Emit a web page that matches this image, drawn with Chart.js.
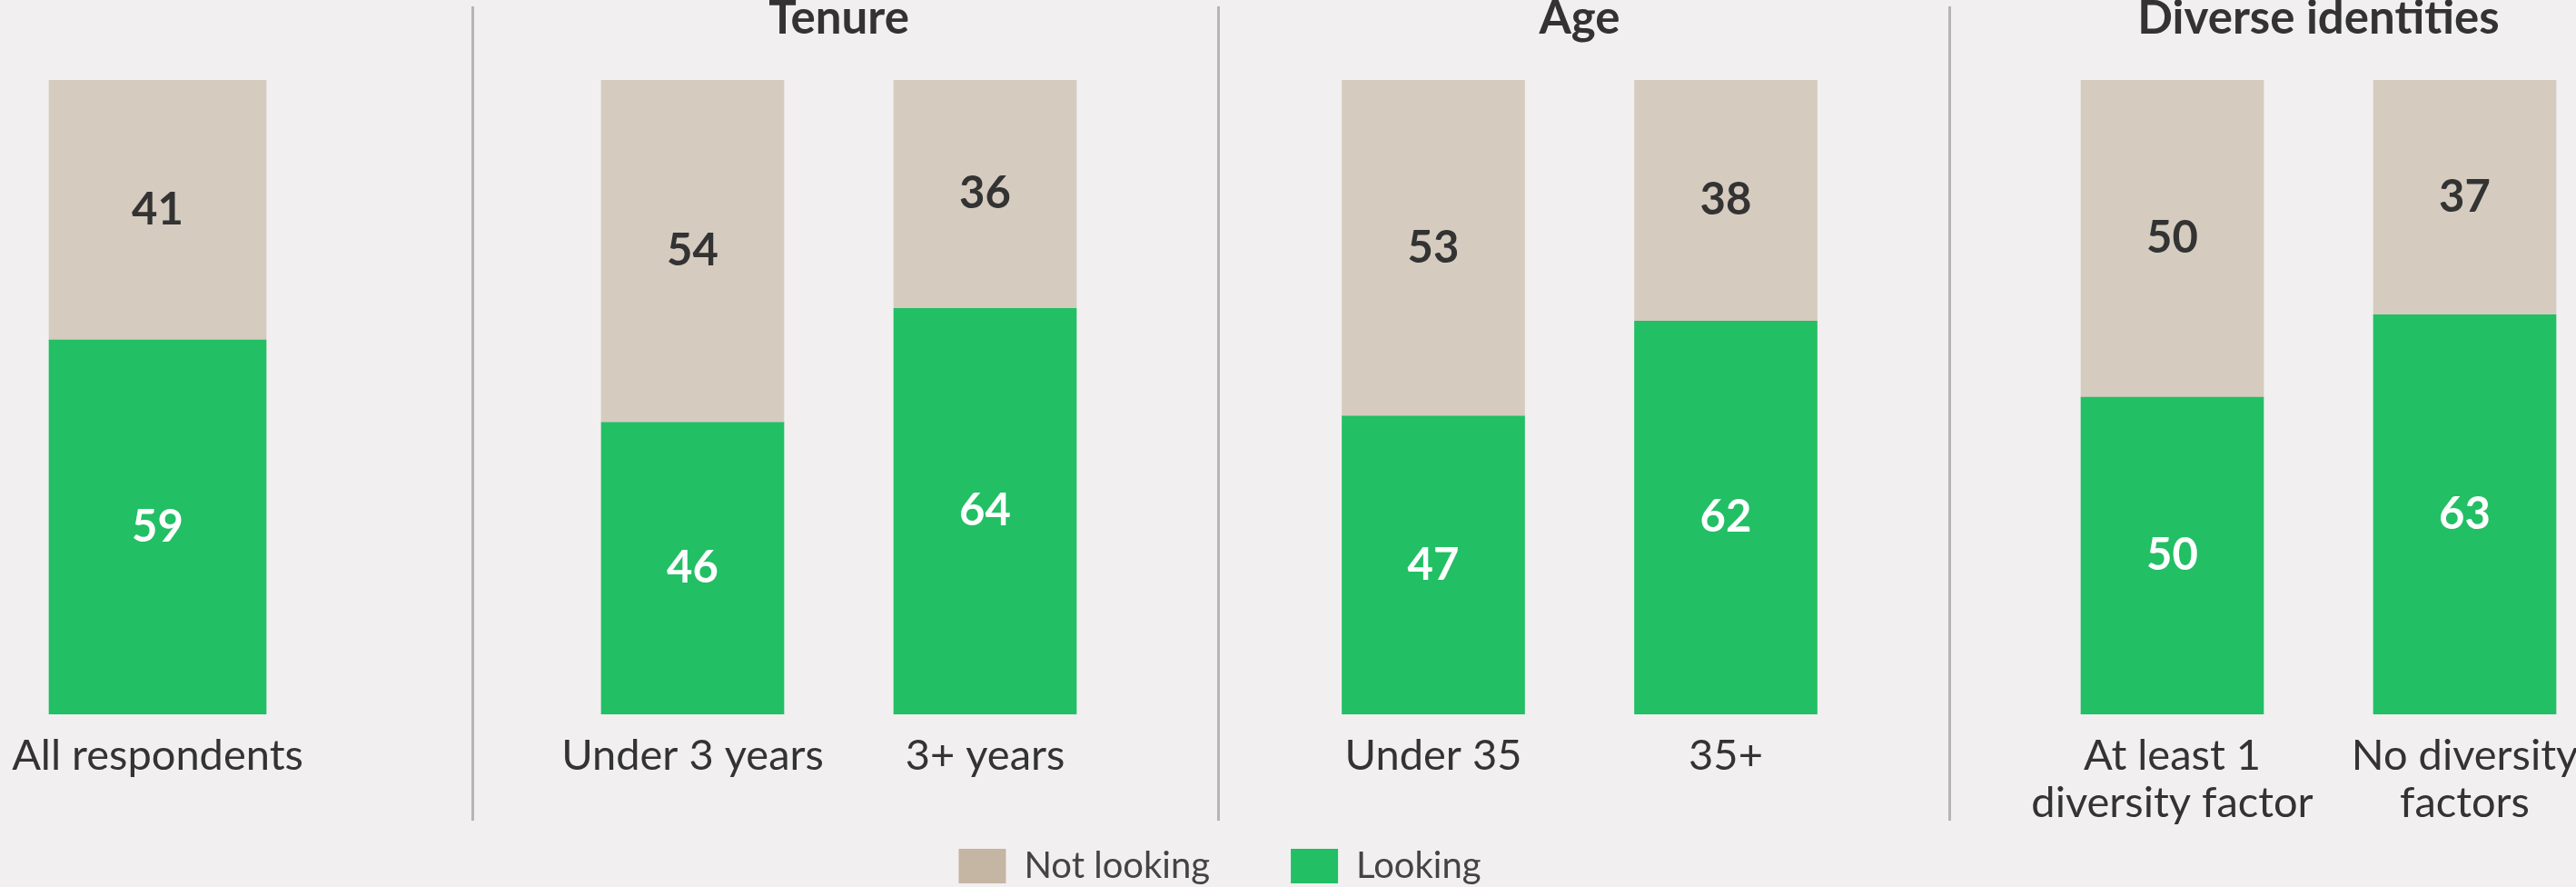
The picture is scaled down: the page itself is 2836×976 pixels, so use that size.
<!DOCTYPE html>
<html>
<head>
<meta charset="utf-8">
<script src="https://cdn.jsdelivr.net/npm/chart.js@4.4.1/dist/chart.umd.min.js"></script>
<style>
  html, body { margin: 0; padding: 0; width: 2836px; height: 976px; overflow: hidden; background: #f1eff0; }
  .panel { position: absolute; top: 0; height: 976px; }
  .legendBox { position: absolute; }
</style>
</head>
<body>
<div class="panel" style="left:0px;width:519px"><canvas id="cAll"></canvas></div>
<div class="panel" style="left:519px;width:821px"><canvas id="cTenure"></canvas></div>
<div class="panel" style="left:1340px;width:805px"><canvas id="cAge"></canvas></div>
<div class="panel" style="left:2145px;width:800px"><canvas id="cDiv"></canvas></div>
<div class="legendBox" style="left:0px;top:844px;width:2686px;height:500px"><canvas id="cLegend"></canvas></div>
<script>
// ---------------- DATA ----------------
const seriesNames = ['Not looking', 'Looking'];

const allTitle = '';
const allLabels = ['All respondents'];
const allLooking = [59];
const allNotLooking = [41];

const tenureTitle = 'Tenure';
const tenureLabels = ['Under 3 years', '3+ years'];
const tenureLooking = [46, 64];
const tenureNotLooking = [54, 36];

const ageTitle = 'Age';
const ageLabels = ['Under 35', '35+'];
const ageLooking = [47, 62];
const ageNotLooking = [53, 38];

const diversityTitle = 'Diverse identities';
const diversityLabels = [['At least 1', 'diversity factor'], ['No diversity', 'factors']];
const diversityLooking = [50, 63];
const diversityNotLooking = [50, 37];

// ---------------- STYLE ----------------
const GREEN = '#22bf64';
const BEIGE = '#d5cbbf';
const BEIGE_LEGEND = '#c5b5a3';
const TEXT = '#333333';
const FONT = 'Lato';

Chart.defaults.font.family = FONT;
Chart.defaults.color = TEXT;
Chart.defaults.animation = false;

const valueLabels = {
  id: 'valueLabels',
  afterDatasetsDraw(chart) {
    const ctx = chart.ctx;
    ctx.save();
    ctx.font = 'bold 49px ' + FONT;
    ctx.textAlign = 'center';
    ctx.textBaseline = 'middle';
    chart.data.datasets.forEach((ds, i) => {
      const meta = chart.getDatasetMeta(i);
      ctx.fillStyle = ds.labelColor;
      meta.data.forEach((el, j) => {
        const v = ds.data[j];
        if (v == null) return;
        ctx.fillText(String(v), el.x, (el.y + el.base) / 2);
      });
    });
    ctx.restore();
  }
};

const divider = {
  id: 'divider',
  beforeDraw(chart, args, opts) {
    if (!opts || !opts.show) return;
    const ctx = chart.ctx;
    ctx.save();
    ctx.fillStyle = '#b5b5b5';
    ctx.fillRect(0, 7, 3, 896);
    ctx.restore();
  }
};

function makePanel(id, title, labels, looking, notLooking, pad, barThickness, showDivider) {
  const hasTitle = title !== '';
  return new Chart(document.getElementById(id), {
    type: 'bar',
    data: {
      labels: labels,
      datasets: [
        { label: seriesNames[1], data: looking, backgroundColor: GREEN, labelColor: '#ffffff', barThickness: barThickness },
        { label: seriesNames[0], data: notLooking, backgroundColor: BEIGE, labelColor: TEXT, barThickness: barThickness }
      ]
    },
    options: {
      responsive: true,
      maintainAspectRatio: false,
      devicePixelRatio: 1,
      layout: { padding: { left: pad[0], right: pad[1], top: hasTitle ? 0 : 88, bottom: 0 } },
      scales: {
        x: {
          stacked: true,
          grid: { display: false, drawTicks: false },
          border: { display: false },
          ticks: { font: { size: 47, lineHeight: 1.106 }, color: TEXT, padding: 20, maxRotation: 0, minRotation: 0, autoSkip: false },
          afterFit(scale) { scale.height = 190; scale.paddingLeft = 0; scale.paddingRight = 0; }
        },
        y: { stacked: true, display: false, min: 0, max: 100 }
      },
      plugins: {
        legend: { display: false },
        tooltip: { enabled: false },
        title: {
          display: hasTitle,
          text: title,
          fullSize: false,
          color: TEXT,
          font: { size: 51, weight: 'bold', lineHeight: 0.8 },
          padding: { top: 0, bottom: 47.2 }
        },
        divider: { show: showDivider }
      }
    },
    plugins: [valueLabels, divider]
  });
}

makePanel('cAll', allTitle, allLabels, allLooking, allNotLooking, [0, 172], 239, false);
makePanel('cTenure', tenureTitle, tenureLabels, tenureLooking, tenureNotLooking, [82.5, 94.5], 201, true);
makePanel('cAge', ageTitle, ageLabels, ageLooking, ageNotLooking, [77, 84], 201, true);
makePanel('cDiv', diversityTitle, diversityLabels, diversityLooking, diversityNotLooking, [85.5, 70.5], 201, true);

new Chart(document.getElementById('cLegend'), {
  type: 'bar',
  data: {
    labels: [],
    datasets: [
      { label: seriesNames[0], data: [], backgroundColor: BEIGE_LEGEND },
      { label: seriesNames[1], data: [], backgroundColor: GREEN }
    ]
  },
  options: {
    responsive: true,
    maintainAspectRatio: false,
    devicePixelRatio: 1,
    layout: { padding: 0 },
    scales: { x: { display: false }, y: { display: false } },
    plugins: {
      tooltip: { enabled: false },
      legend: {
        display: true,
        position: 'top',
        labels: { boxWidth: 52, boxHeight: 38, padding: 89, color: '#444444', font: { size: 40 } }
      }
    }
  }
});
</script>
</body>
</html>
